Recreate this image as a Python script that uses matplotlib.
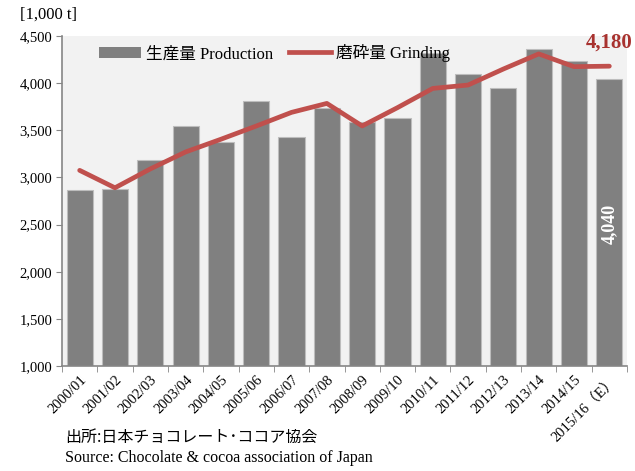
import numpy as np
import matplotlib.pyplot as plt
import matplotlib.transforms as mtransforms
from matplotlib.patches import Patch
from matplotlib.lines import Line2D

plt.rcParams['font.family'] = ['Liberation Serif', 'Noto Sans CJK JP', 'DejaVu Sans']

# 年度ラベル
years = ["2000/01", "2001/02", "2002/03", "2003/04", "2004/05", "2005/06",
         "2006/07", "2007/08", "2008/09", "2009/10", "2010/11", "2011/12",
         "2012/13", "2013/14", "2014/15", "2015/16（E）"]
# 生産量 (1,000 t)
production = [2865, 2880, 3180, 3550, 3380, 3810, 3430, 3740, 3590, 3635,
              4325, 4100, 3945, 4360, 4235, 4040]
# 磨砕量 (1,000 t)
grinding = [3075, 2890, 3090, 3270, 3405, 3545, 3690, 3785, 3546, 3740,
            3944, 3980, 4150, 4310, 4175, 4180]

fig = plt.figure(figsize=(6.35, 4.71), dpi=100)
ax = fig.add_axes([62 / 635, 1 - 366 / 471, 565 / 635, 330 / 471])
ax.set_facecolor("#F2F2F2")

x = np.arange(len(years))
ax.bar(x, production, width=0.74, bottom=0, color="#808080",
       edgecolor="#BDBDBD", linewidth=0.8, zorder=2)
ax.plot(x, grinding, color="#C0504D", linewidth=3.4, solid_capstyle="round",
        solid_joinstyle="round", zorder=3)

ax.set_xlim(-0.5, len(years) - 0.5)
ax.set_ylim(1000, 4500)
ax.set_yticks(np.arange(1000, 4501, 500))
ax.set_yticklabels([f"{v:,}" for v in range(1000, 4501, 500)], fontsize=10.5)
ax.set_xticks(x)
ax.set_xticklabels(years, rotation=45, ha="right", va="top", fontsize=10.5,
                   rotation_mode="anchor")
# ラベルを少し右へずらす
shift = mtransforms.ScaledTranslation(6 / 72, 0, fig.dpi_scale_trans)
for lbl in ax.get_xticklabels():
    lbl.set_transform(lbl.get_transform() + shift)
ax.set_xticks(np.arange(-0.5, len(years), 1), minor=True)
ax.tick_params(axis="x", which="major", length=0, pad=5)
ax.tick_params(axis="x", which="minor", length=4, color="#868686", direction="out")
ax.tick_params(axis="y", length=4, color="#868686", direction="out", pad=3)
for s in ["top", "right"]:
    ax.spines[s].set_visible(False)
for s in ["left", "bottom"]:
    ax.spines[s].set_color("#868686")
    ax.spines[s].set_linewidth(1.2)

# 注記
ax.text(15, 4430, "4,180", color="#A8322F", fontsize=15, fontweight="bold",
        ha="center", va="center", clip_on=False, zorder=4)
ax.text(15, 2510, "4,040", color="white", fontsize=13, fontweight="bold",
        rotation=90, ha="center", va="center", zorder=4)

handles = [Patch(facecolor="#808080", edgecolor="none"),
           Line2D([0], [0], color="#C0504D", linewidth=3.4)]
ax.legend(handles, ["生産量 Production", "磨砕量 Grinding"], ncol=2,
          loc="upper left", bbox_to_anchor=(37 / 565, 0.975), frameon=False,
          fontsize=12, handlelength=2.5, handletextpad=0.3, columnspacing=1.0,
          borderpad=0, borderaxespad=0)

fig.text(20 / 635, 1 - 15 / 471, "[1,000 t]", fontsize=12, va="center", ha="left")
fig.text(65 / 635, 1 - 437 / 471, "出所:日本チョコレート･ココア協会", fontsize=11.5,
         va="center", ha="left", family=["Noto Sans CJK JP", "DejaVu Sans"])
fig.text(65 / 635, 1 - 458 / 471, "Source: Chocolate & cocoa association of Japan",
         fontsize=11.5, va="center", ha="left")

fig.savefig("out.png", dpi=100)
